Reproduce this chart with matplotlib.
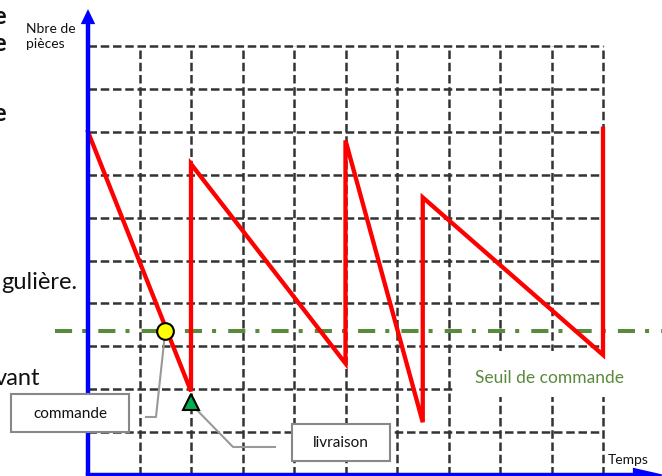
import matplotlib
matplotlib.use('Agg')
import matplotlib.pyplot as plt
from matplotlib.patches import Rectangle, Polygon

plt.rcParams['font.family'] = ['Lato', 'DejaVu Sans']

# ---- data (grid units: x = time cells, y = stock cells) ----
stock_t = [0, 2, 2, 5, 5, 6.5, 6.5, 10, 10]
stock_q = [8, 1.95, 7.25, 2.6, 7.8, 1.23, 6.47, 2.8, 8.07]
seuil = 3.35
commande_t, commande_q = 1.5, 3.35
livraison_t, livraison_q = 2.0, 1.70
grid_x = list(range(1, 11))
grid_y = list(range(1, 11))
x_label = "Temps"
y_label = "Nbre de\npièces"
seuil_label = "Seuil de commande"
commande_label = "commande"
livraison_label = "livraison"

# ---- figure ----
fig = plt.figure(figsize=(6.62, 4.77), dpi=100)
ax = fig.add_axes([0, 0, 1, 1])
ax.axis('off')
ax.set_xlim(-88 / 51.5, (662 - 88) / 51.5)
ax.set_ylim((476 - 477) / 42.9, 476 / 42.9)

grid_kw = dict(color='#333333', lw=1.8, linestyle=(0, (3.4, 1.5)), zorder=1)
for gy in grid_y:
    ax.plot([0, 10], [gy, gy], **grid_kw)
for gx in grid_x:
    ax.plot([gx, gx], [0, 10], **grid_kw)

# white area behind "Seuil de commande"
ax.add_patch(Rectangle((7.13, 1.82), 4.2, 1.07, facecolor='white', edgecolor='none', zorder=2))

# background text fragments (cut off at left, as in the original slide)
frag_kw = dict(fontsize=17, color='#111111', va='center', zorder=1)
ax.text(-1.592, 10.70, 'e', ha='right', fontweight='bold', **frag_kw)
ax.text(-1.592, 10.07, 'e', ha='right', fontweight='bold', **frag_kw)
ax.text(-1.592, 8.46, 'e', ha='right', fontweight='bold', **frag_kw)
ax.text(-0.214, 4.52, 'gulière.', ha='right', **frag_kw)
ax.text(-0.93, 2.28, 'vant', ha='right', **frag_kw)

# threshold
ax.plot([-0.64, 11.3], [seuil, seuil], color='#5a8a3c', lw=2.9,
        linestyle=(0, (4.25, 2.5, 1.0, 3.0)), zorder=3)
ax.text(8.97, 2.28, seuil_label, color='#5a8a3c', fontsize=12.5, ha='center', va='center', zorder=4)

# stock curve
ax.plot(stock_t, stock_q, color='#ff0000', lw=3.1, zorder=4, solid_joinstyle='miter')

# axes
ax.plot([0, 0], [0, 10.55], color='#0000ff', lw=3.2, zorder=5, solid_capstyle='butt')
ax.add_patch(Polygon([[-0.14, 10.51], [0.14, 10.51], [0, 10.86]], closed=True,
                     facecolor='#0000ff', edgecolor='none', zorder=5))
ax.plot([0, 10.7], [0, 0], color='#0000ff', lw=3.2, zorder=5)
ax.add_patch(Polygon([[10.58, 0.17], [10.58, -0.17], [11.2, 0]], closed=True,
                     facecolor='#0000ff', edgecolor='none', zorder=5))
ax.text(10.1, 0.37, x_label, fontsize=10, ha='left', va='center', color='#111111', zorder=5)
ax.text(-1.2, 10.25, y_label, fontsize=10, ha='left', va='center', color='#111111',
        linespacing=1.3, zorder=5)

# leader lines
ax.plot([1.126, 1.32, commande_t], [1.352, 1.352, commande_q], color='#999999', lw=1.5, zorder=5)
ax.plot([livraison_t, 2.816, 3.63], [1.655, 0.653, 0.653], color='#999999', lw=1.5, zorder=5)

# markers
ax.plot([commande_t], [commande_q], marker='o', ms=12, mfc='#ffff00', mec='black', mew=1.5, zorder=6)
ax.plot([livraison_t], [livraison_q], marker='^', ms=11, mfc='#00b050', mec='black', mew=1.5, zorder=6)

# callout boxes
ax.add_patch(Rectangle((-1.495, 1.0), 2.29, 0.89, facecolor='white', edgecolor='#888888', lw=1.5, zorder=7))
ax.text(-0.35, 1.445, commande_label, fontsize=11, ha='center', va='center', color='#111111', zorder=8)
ax.add_patch(Rectangle((3.96, 0.326), 1.9, 0.864, facecolor='white', edgecolor='#888888', lw=1.5, zorder=7))
ax.text(4.91, 0.758, livraison_label, fontsize=11, ha='center', va='center', color='#111111', zorder=8)

fig.savefig('out.png', dpi=100)
